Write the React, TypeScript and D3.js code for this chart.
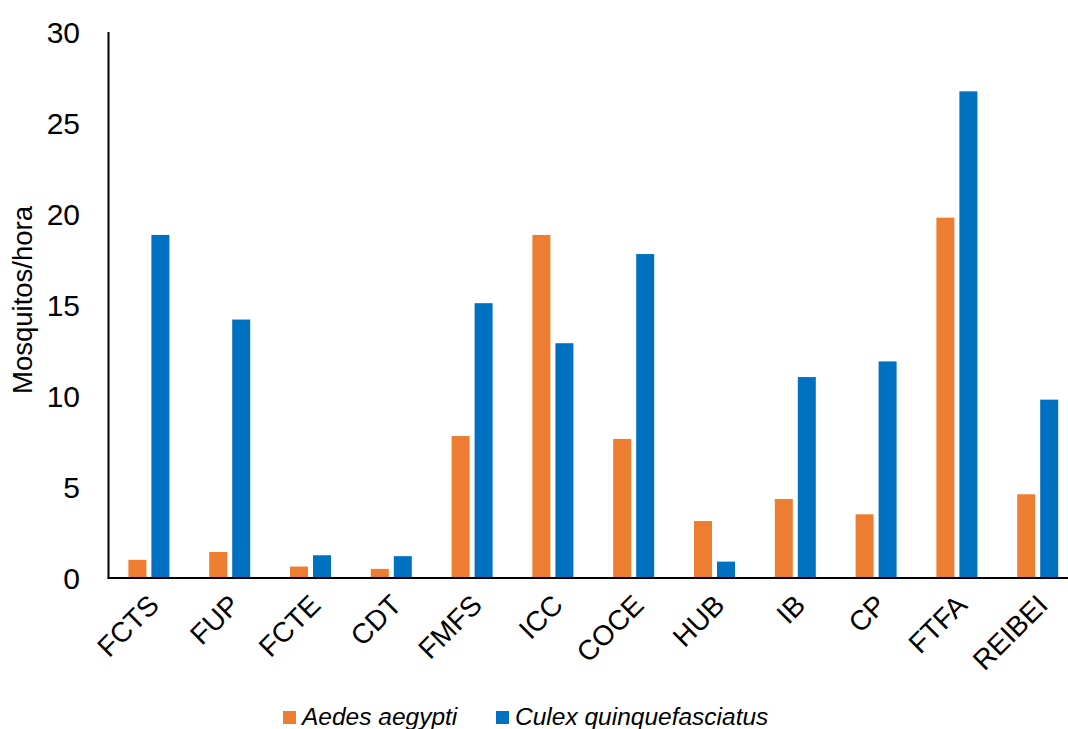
import React from "react";
import * as d3 from "d3";

const categories = ["FCTS", "FUP", "FCTE", "CDT", "FMFS", "ICC", "COCE", "HUB", "IB", "CP", "FTFA", "REIBEI"];
const aedes = [1.0, 1.43, 0.63, 0.5, 7.8, 18.85, 7.64, 3.13, 4.34, 3.5, 19.8, 4.6];
const culex = [18.85, 14.2, 1.25, 1.2, 15.1, 12.9, 17.8, 0.9, 11.04, 11.9, 26.74, 9.8];
const yTicks = [0, 5, 10, 15, 20, 25, 30];
const seriesNames = ["Aedes aegypti", "Culex quinquefasciatus"];
const colors = ["#ED7D31", "#0070C0"];

const W = 1068;
const H = 729;
const axisX = 108.5;
const plotTop = 32;
const plotBottom = 578;
const FONT = "'Liberation Sans', Arial, sans-serif";

export default function App() {
  const x = d3.scaleBand<string>().domain(categories).range([axisX, axisX + 80.8 * 12]).padding(0);
  const y = d3.scaleLinear().domain([0, 30]).range([plotBottom, plotTop]);
  const barW = 18;
  const gap = 5;
  const series = [aedes, culex];

  return (
    <svg width={W} height={H} style={{ position: "absolute", left: 0, top: 0, background: "#fff" }} fontFamily={FONT}>
      {series.map((vals, si) =>
        categories.map((c, i) => {
          const cx = (x(c) as number) + x.bandwidth() / 2;
          const bx = si === 0 ? cx - gap / 2 - barW : cx + gap / 2;
          return (
            <rect key={`${si}-${c}`} x={bx} y={y(vals[i])} width={barW} height={y(0) - y(vals[i])} fill={colors[si]} />
          );
        })
      )}
      <line x1={axisX} x2={axisX} y1={plotTop} y2={plotBottom + 1} stroke="#000" strokeWidth={2} />
      <line x1={axisX - 1} x2={W} y1={plotBottom} y2={plotBottom} stroke="#000" strokeWidth={2} />
      {yTicks.map((t) => (
        <text key={t} x={80} y={y(t)} textAnchor="end" dominantBaseline="central" fontSize={30} fill="#000">
          {t}
        </text>
      ))}
      <text transform={`translate(32,${(plotTop + plotBottom) / 2 - 5}) rotate(-90)`} textAnchor="middle" fontSize={27.5} fill="#000">
        Mosquitos/hora
      </text>
      {categories.map((c) => {
        const cx = (x(c) as number) + x.bandwidth() / 2 + 5;
        return (
          <text key={c} transform={`translate(${cx},${plotBottom + 22}) rotate(-45)`} textAnchor="end" dominantBaseline="central" fontSize={28} fill="#000">
            {c}
          </text>
        );
      })}
      {seriesNames.map((n, i) => {
        const lx = i === 0 ? 283 : 496;
        return (
          <g key={n}>
            <rect x={lx} y={711} width={13} height={13} fill={colors[i]} />
            <text x={lx + 19} y={725} fontSize={24.5} fontStyle="italic" fill="#000">
              {n}
            </text>
          </g>
        );
      })}
    </svg>
  );
}
